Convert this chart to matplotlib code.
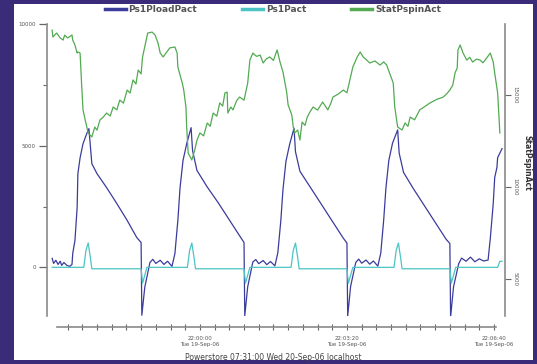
import matplotlib
matplotlib.use('Agg')
import matplotlib.pyplot as plt
from matplotlib.patches import Rectangle
from matplotlib.lines import Line2D
from matplotlib.ticker import MultipleLocator, FixedLocator

# seconds relative to 22:00:00 Tue 19-Sep-06
pload_t = [-201, -199, -196, -193, -190, -188, -185, -181, -177, -174, -173, -170, -167, -166,
           -163, -159, -154, -151, -147, -140, -127, -113, -99, -86, -80, -79, -75, -68,
           -64, -60, -54, -49, -44, -38,
           -34, -30, -27, -23, -18, -12, -10, -4, 10, 25, 40, 55, 60, 61, 65, 72,
           76, 80, 86, 91, 96, 102,
           106, 110, 113, 117, 122, 128, 130, 136, 150, 165, 180, 195, 200, 201, 205, 212,
           216, 220, 226, 231, 236, 242,
           246, 250, 253, 257, 262, 269, 271, 277, 290, 305, 320, 335, 340, 341, 345, 352,
           356, 362, 368, 374, 380, 386, 392,
           395, 399, 401, 404, 405, 411]
pload_v = [370, 160, 290, 120, 250, 80, 200, 80, 40, 120, 570, 1100, 2460, 3850,
           4500, 5080, 5490, 5700, 4260, 3850, 3280, 2620, 1930, 1230, 1020, -1970, -820, 200,
           330, 160, 290, 120, 250, 40,
           570, 1930, 3280, 4390, 5080, 5740, 4800, 3980, 3300, 2650, 1950, 1250, 1020, -1990, -800, 220,
           320, 150, 280, 110, 240, 60,
           600, 1900, 3200, 4350, 5050, 5720, 4750, 3950, 3300, 2600, 1900, 1200, 1000, -2000, -780, 200,
           340, 170, 300, 130, 260, 50,
           580, 1950, 3250, 4400, 5100, 5650, 4700, 3900, 3250, 2550, 1850, 1150, 980, -2050, -800, 150,
           380, 250, 420, 230, 350, 260, 300,
           1190, 2620, 3690, 4100, 4510, 4880]

pact_t = [-201, -158, -155, -152, -149, -147, -80, -78, -72,
          -17, -14, -11, -8, -6, 60, 62, 68,
          124, 127, 130, 133, 135, 200, 202, 208,
          264, 267, 270, 273, 275, 340, 342, 348, 405, 408, 411]
pact_v = [0, 0, 700, 1000, 400, -60, -60, -650, 0,
          0, 700, 1000, 400, -60, -60, -650, 0,
          0, 700, 1000, 400, -60, -60, -650, 0,
          0, 700, 1000, 400, -60, -60, -650, 0, 0, 250, 250]

spin_t = [-201, -200, -195, -190, -186, -184, -180, -174, -173, -170, -167, -166, -163, -161,
          -159, -156, -152, -147, -143, -140, -136, -131, -127, -122, -118, -113, -109, -104, -99,
          -95, -91, -87, -84, -80, -78, -73, -71,
          -65, -61, -57, -54, -50, -45, -41, -34, -31, -30, -24, -22, -19, -18, -16, -11, -7,
          -4, 0, 5, 10, 14, 18, 23, 27, 31, 34, 37, 38, 42, 45, 50, 54, 60, 65, 68, 72, 77, 82, 86,
          90, 95, 100, 105, 109, 113, 118,
          120, 125, 127, 129, 133, 136, 139, 143, 146, 150, 154, 160, 167, 174, 178, 181, 188, 195,
          200, 204, 208, 214, 218,
          222, 227, 231, 238, 245, 250, 254, 258, 263, 265, 269, 275, 279, 283, 286, 292, 299, 306,
          313, 322, 331, 336, 340, 344, 347,
          350, 351, 354, 358, 363, 367, 371, 376, 381, 385, 390, 395, 399, 401, 404, 405, 408]
spin_v = [18530, 18150, 18370, 18100, 17990, 18260, 18100, 18260, 17990, 17720, 17280, 17340, 17280, 15650,
          14190, 13640, 12940, 12720, 13260, 13090, 13640, 13820, 14020, 13860, 14350, 14190, 14730, 14560, 15270,
          15110, 15820, 15600, 16360, 16150, 17070, 17990, 18370,
          18420, 18260, 17830, 17280, 17070, 17340, 17560, 17610, 17280, 16520, 15650, 15270, 14350, 13260, 11850, 11470, 12010,
          12550, 12940, 12780, 13480, 13300, 14020, 13850, 14570, 14400, 15110, 15160, 14020, 14350, 14190, 14700, 14890, 14720,
          15650, 16900, 17280, 17100, 17170, 16740,
          16950, 17070, 16880, 17450, 16790, 16250, 15160,
          14460, 13910, 13260, 12940, 13100, 12550, 13530, 13350, 13800, 14100, 14350, 14180, 14620, 14190, 14540, 14890, 15050, 15270,
          15120, 15820, 16520, 17070, 17340,
          17070, 16900, 16740, 16850, 16630, 16800, 16630, 16200, 15650, 14350, 13260, 13100, 13480, 13300, 13800, 13650, 14190, 14380,
          14570, 14760, 14890, 15080, 15270, 15540, 16200,
          16470, 17450, 17720, 17280, 16900, 17050, 16790, 16950, 16900, 16750, 17010, 17280, 16790, 16200, 15380, 15110, 12940]

left_ticks = [0, 5000, 10000]
right_ticks = [5000, 10000, 15000]
x_major = [0, 200, 400]
x_minor = list(range(-180, 401, 20))
x_labels = ['22:00:00\nTue 19-Sep-06', '22:03:20\nTue 19-Sep-06', '22:06:40\nTue 19-Sep-06']
names = ['Ps1PloadPact', 'Ps1Pact', 'StatPspinAct']
colors = ['#3a3c9c', '#4cc4c4', '#52aa52']

W, H = 537, 364
fig = plt.figure(figsize=(W / 100, H / 100), dpi=100, facecolor='#3b2c7a')
fig.patches.append(Rectangle((14 / W, 4 / H), 519 / W, 356 / H, transform=fig.transFigure,
                             facecolor='white', edgecolor='none', zorder=-5))

ax = fig.add_axes([47 / W, 1 - 316 / H, (505 - 47) / W, (316 - 24) / H])
ax.set_facecolor('none')
ax2 = ax.twinx()

ax.plot(pload_t, pload_v, color=colors[0], lw=0.9)
ax.plot(pact_t, pact_v, color=colors[1], lw=0.9)
ax2.plot(spin_t, spin_v, color=colors[2], lw=0.9)

ax.set_xlim(-208, 415)
ax.set_ylim(-2000, 10000)
ax2.set_ylim(2990, 18860)

grey = '#8a8a8a'
for s in ['top', 'right']:
    ax.spines[s].set_visible(False)
for s in ['top', 'left', 'bottom']:
    ax2.spines[s].set_visible(False)
ax.spines['bottom'].set_position(('outward', 8))
ax.spines['bottom'].set_bounds(-195, 403)
for sp in [ax.spines['left'], ax.spines['bottom'], ax2.spines['right']]:
    sp.set_color(grey)
    sp.set_linewidth(1.2)

ax.yaxis.set_major_locator(FixedLocator(left_ticks))
ax.set_yticklabels([str(v) for v in left_ticks])
ax.yaxis.set_minor_locator(MultipleLocator(2500))
ax.tick_params(axis='y', which='major', direction='out', length=6, width=0.9, color='#666666',
               labelsize=4, labelcolor='#555555', pad=2)
ax.tick_params(axis='y', which='minor', direction='out', length=3, width=0.8, color='#666666')

ax.xaxis.set_major_locator(FixedLocator(x_major))
ax.set_xticklabels(x_labels)
ax.xaxis.set_minor_locator(FixedLocator(x_minor))
ax.tick_params(axis='x', which='both', direction='inout', length=5, width=0.8, color='#666666',
               labelsize=4, labelcolor='#555555', pad=4)

ax2.yaxis.set_major_locator(FixedLocator(right_ticks))
ax2.set_yticklabels([str(v) for v in right_ticks], rotation=270, va='center')
ax2.tick_params(axis='y', direction='out', length=4, width=0.8, color='#666666',
                labelsize=4, labelcolor='#555555', pad=1.5)

fig.text(527 / W, 1 - 163 / H, 'StatPspinAct', rotation=270, ha='center', va='center',
         fontsize=5.5, fontweight='bold', color='#333333')
fig.text(273 / W, 1 - 357 / H, 'Powerstore 07:31:00 Wed 20-Sep-06 localhost', ha='center', va='center',
         fontsize=5.5, color='#444444')

handles = [Line2D([], [], color=c, lw=2.5) for c in colors]
leg = fig.legend(handles, names, loc='center', bbox_to_anchor=(273 / W, 1 - 10 / H), ncol=3,
                 frameon=False, prop={'size': 6.5, 'weight': 'bold'}, handlelength=2.3,
                 handletextpad=0.3, columnspacing=5)
for t in leg.get_texts():
    t.set_color('#555555')

fig.savefig('out.png', dpi=100, facecolor=fig.get_facecolor())
